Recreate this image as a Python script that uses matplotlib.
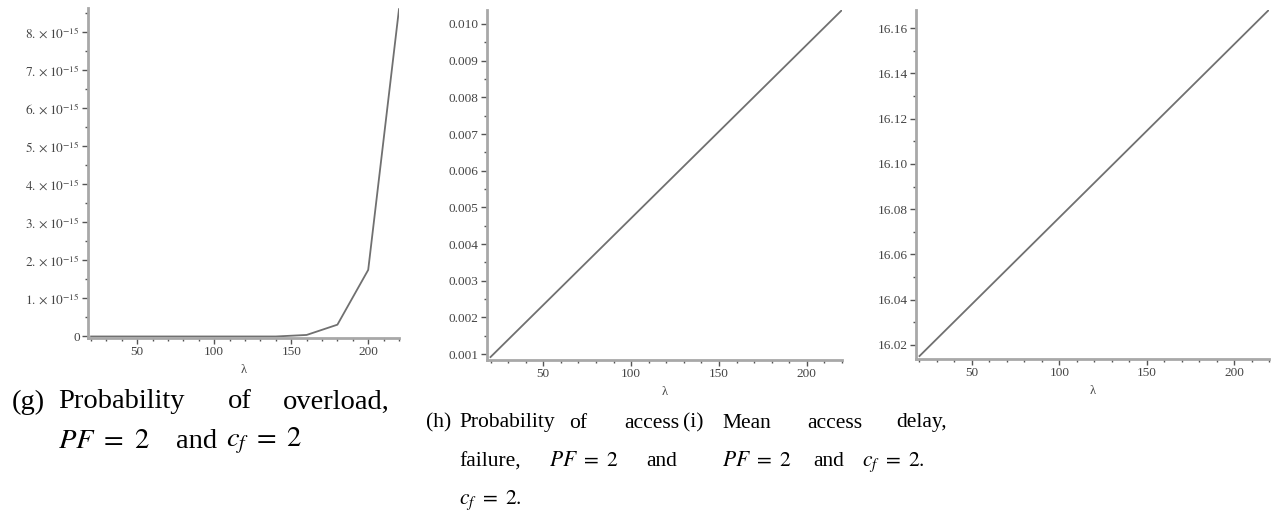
import matplotlib.pyplot as plt
import matplotlib
from matplotlib.ticker import MultipleLocator, FixedLocator

matplotlib.rcParams['font.family'] = 'Liberation Serif'
matplotlib.rcParams['mathtext.fontset'] = 'stix'

lam = [20, 40, 60, 80, 100, 120, 140, 160, 180, 200, 220]
p_overload = [0, 0, 0, 0, 0, 0, 0, 0.04e-15, 0.31e-15, 1.75e-15, 8.6e-15]
p_fail = [0.00092, 0.001866, 0.002812, 0.003758, 0.004704, 0.00565,
          0.006596, 0.007542, 0.008488, 0.009434, 0.01038]
delay = [16.0151, 16.0304, 16.0457, 16.0610, 16.0763, 16.0916,
         16.1069, 16.1222, 16.1375, 16.1528, 16.1681]

g_ticks = [0, 1e-15, 2e-15, 3e-15, 4e-15, 5e-15, 6e-15, 7e-15, 8e-15]
g_labels = ['0'] + [r'$%d.\times10^{-15}$' % k for k in range(1, 9)]
h_ticks = [0.001, 0.002, 0.003, 0.004, 0.005, 0.006, 0.007, 0.008, 0.009, 0.010]
i_ticks = [16.02, 16.04, 16.06, 16.08, 16.10, 16.12, 16.14, 16.16]

fig = plt.figure(figsize=(12.72, 5.17), dpi=100)
W, H = 1272, 517

def make_ax(l, r, t, b):
    return fig.add_axes([l / W, 1 - b / H, (r - l) / W, (b - t) / H])

def style(ax):
    for s in ['top', 'right']:
        ax.spines[s].set_visible(False)
    for s in ['left', 'bottom']:
        ax.spines[s].set_color('#a8a8a8')
        ax.spines[s].set_linewidth(2)
    ax.xaxis.set_major_locator(FixedLocator([50, 100, 150, 200]))
    ax.xaxis.set_minor_locator(MultipleLocator(10))
    ax.tick_params(which='major', length=4, width=1, color='#555555',
                   labelsize=9.5, labelcolor='#444444', pad=2)
    ax.tick_params(which='minor', length=2.5, width=1, color='#555555')
    ax.set_xlim(18, 220)
    ax.set_xlabel('λ', fontsize=9, color='#444444', labelpad=4)

ax1 = make_ax(88, 399, 8, 338)
ax1.plot(lam, p_overload, color='#707070', lw=1.3)
style(ax1)
ax1.set_ylim(-0.04e-15, 8.63e-15)
ax1.set_yticks(g_ticks)
ax1.set_yticklabels(g_labels)
ax1.yaxis.set_minor_locator(MultipleLocator(0.5e-15))

ax2 = make_ax(487, 842, 10, 360)
ax2.plot(lam, p_fail, color='#707070', lw=1.3)
style(ax2)
ax2.set_ylim(0.00084, 0.01038)
ax2.set_yticks(h_ticks)
ax2.set_yticklabels(['%.3f' % v for v in h_ticks])
ax2.yaxis.set_minor_locator(MultipleLocator(0.0005))

ax3 = make_ax(916, 1269, 10, 359)
ax3.plot(lam, delay, color='#707070', lw=1.3)
style(ax3)
ax3.set_ylim(16.0138, 16.168)
ax3.set_yticks(i_ticks)
ax3.set_yticklabels(['%.2f' % v for v in i_ticks])
ax3.yaxis.set_minor_locator(MultipleLocator(0.01))

def word(x, y, s, fs):
    fig.text(x / W, 1 - y / H, s, fontsize=fs, ha='left', va='center')

# (g)
fg = 20.5
word(12, 402, '(g)', fg)
word(58, 402, 'Probability', fg)
word(228, 402, 'of', fg)
word(283, 402, 'overload,', fg)
word(58, 441, r'$PF\ =\ 2$', fg)
word(176, 441, 'and', fg)
word(226, 441, r'$c_f\ =\ 2$', fg)

# (h)
fh = 15.5
word(426, 423, '(h)', fh)
word(459, 423, 'Probability', fh)
word(569, 423, 'of', fh)
word(624, 423, 'access', fh)
word(459, 462, 'failure,', fh)
word(549, 462, r'$PF\ =\ 2$', fh)
word(646, 462, 'and', fh)
word(459, 500, r'$c_f\ =\ 2.$', fh)

# (i)
word(683, 423, '(i)', fh)
word(722, 423, 'Mean', fh)
word(807, 423, 'access', fh)
word(896, 423, 'delay,', fh)
word(722, 462, r'$PF\ =\ 2$', fh)
word(813, 462, 'and', fh)
word(862, 462, r'$c_f\ =\ 2.$', fh)

plt.savefig('out.png', dpi=100)
